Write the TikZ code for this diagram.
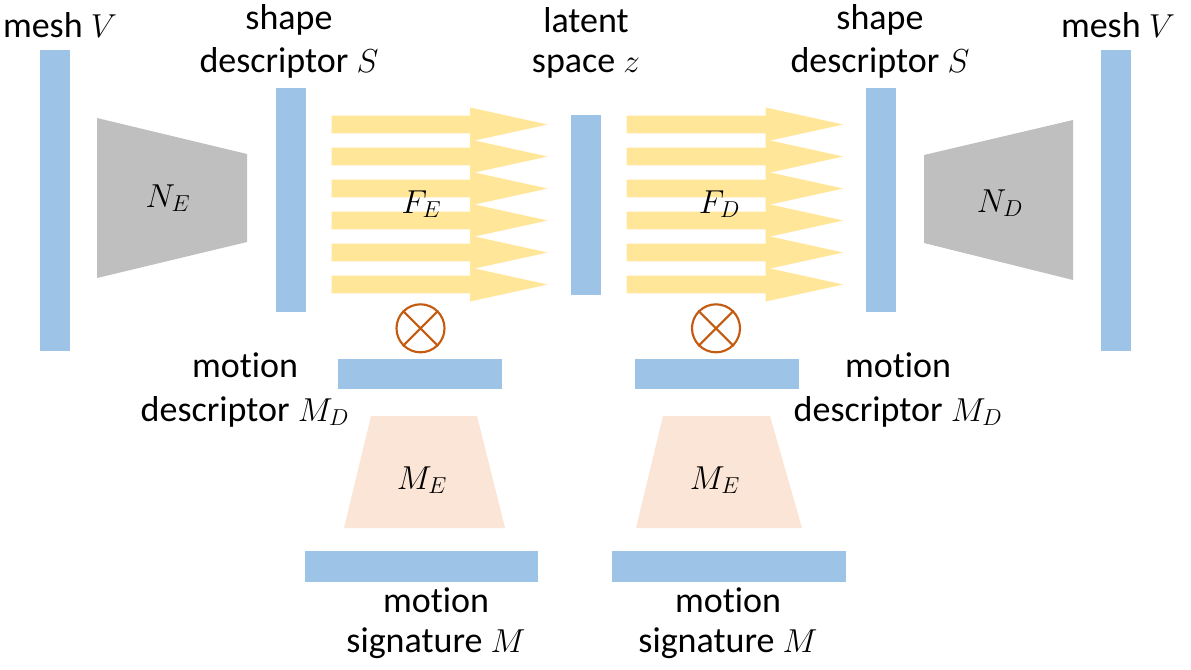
\documentclass[tikz,border=0pt]{standalone}
\usepackage{fontspec}
\setmainfont{Carlito}[RawFeature={-liga;-clig;-calt;-dlig}]
\definecolor{barblue}{HTML}{9DC3E6}
\definecolor{netgray}{HTML}{BFBFBF}
\definecolor{arrowyellow}{HTML}{FFE699}
\definecolor{peach}{HTML}{FBE5D6}
\definecolor{otcol}{HTML}{C55A11}
\newcommand\fatarr[4]{\fill[arrowyellow] (#1,#4-8.8) -- (#2,#4-8.8) -- (#2,#4-17) -- (#3,#4) -- (#2,#4+17) -- (#2,#4+8.8) -- (#1,#4+8.8) -- cycle;}
\newcommand\motiontxt{mot\kern0pt ion}
\begin{document}
\begin{tikzpicture}[x=0.75pt,y=-0.75pt,
  lbl/.style={anchor=base,inner sep=0pt,font=\fontsize{27}{33}\selectfont},
  otimesnode/.style={circle,draw=otcol,line width=1.6pt,minimum size=36pt,inner sep=0pt}]
\useasboundingbox (0,0) rectangle (1191,669);
% blue bars
\fill[barblue] (40,50) rectangle (70,351);
\fill[barblue] (276,88) rectangle (306,312);
\fill[barblue] (571,115) rectangle (601,295);
\fill[barblue] (866,88) rectangle (896,312);
\fill[barblue] (1101,50) rectangle (1131,351);
\fill[barblue] (338,359) rectangle (502,389);
\fill[barblue] (635,359) rectangle (799,389);
\fill[barblue] (305,551) rectangle (538,582);
\fill[barblue] (612,551) rectangle (846,582);
% gray trapezoids
\fill[netgray] (97,118) -- (247,154) -- (247,242) -- (97,278) -- cycle;
\fill[netgray] (924,155) -- (1073,120) -- (1073,280) -- (924,243) -- cycle;
% peach trapezoids
\fill[peach] (371,416) -- (477,416) -- (505,528) -- (344,528) -- cycle;
\fill[peach] (663,416) -- (770,416) -- (802,528) -- (636,528) -- cycle;
% yellow arrows
\foreach \yy in {124.5,156.5,188.5,220.5,252.5,284.5}{
  \fatarr{331.7}{470}{547.7}{\yy}
  \fatarr{626.7}{765.7}{843.3}{\yy}
}
% otimes
\node[otimesnode] (otL) at (420.5,328.3) {};
\draw[otcol,line width=1.6pt] (otL.north west) -- (otL.south east) (otL.north east) -- (otL.south west);
\node[otimesnode] (otR) at (716,328.3) {};
\draw[otcol,line width=1.6pt] (otR.north west) -- (otR.south east) (otR.north east) -- (otR.south west);
% math labels
\node[lbl] (NE) at (168,207) {$N_E$};
\node[lbl] (ND) at (1000,212) {$N_D$};
\node[lbl] (FE) at (421.5,213) {$F_E$};
\node[lbl] (FD) at (719.5,213) {$F_D$};
\node[lbl] (MEL) at (422,489) {$M_E$};
\node[lbl] (MER) at (715,489) {$M_E$};
% text labels
\node[lbl] (meshL) at (60,37) {mesh $V$};
\node[lbl] (meshR) at (1118,37) {mesh $V$};
\node[lbl] (shapeL1) at (289,29) {shape};
\node[lbl] (shapeL2) at (289,72) {descriptor $S$};
\node[lbl] (shapeR1) at (880,29) {shape};
\node[lbl] (shapeR2) at (880,72) {descriptor $S$};
\node[lbl] (lat1) at (586,32) {latent};
\node[lbl] (lat2) at (586,72) {space $z$};
\node[lbl] (mdL1) at (245,377) {\motiontxt};
\node[lbl] (mdL2) at (245,421) {descriptor $M_D$};
\node[lbl] (mdR1) at (898,377) {\motiontxt};
\node[lbl] (mdR2) at (898,421) {descriptor $M_D$};
\node[lbl] (msL1) at (436,612) {\motiontxt};
\node[lbl] (msL2) at (436,652) {signature $M$};
\node[lbl] (msR1) at (728,612) {\motiontxt};
\node[lbl] (msR2) at (728,652) {signature $M$};
\end{tikzpicture}
\end{document}
